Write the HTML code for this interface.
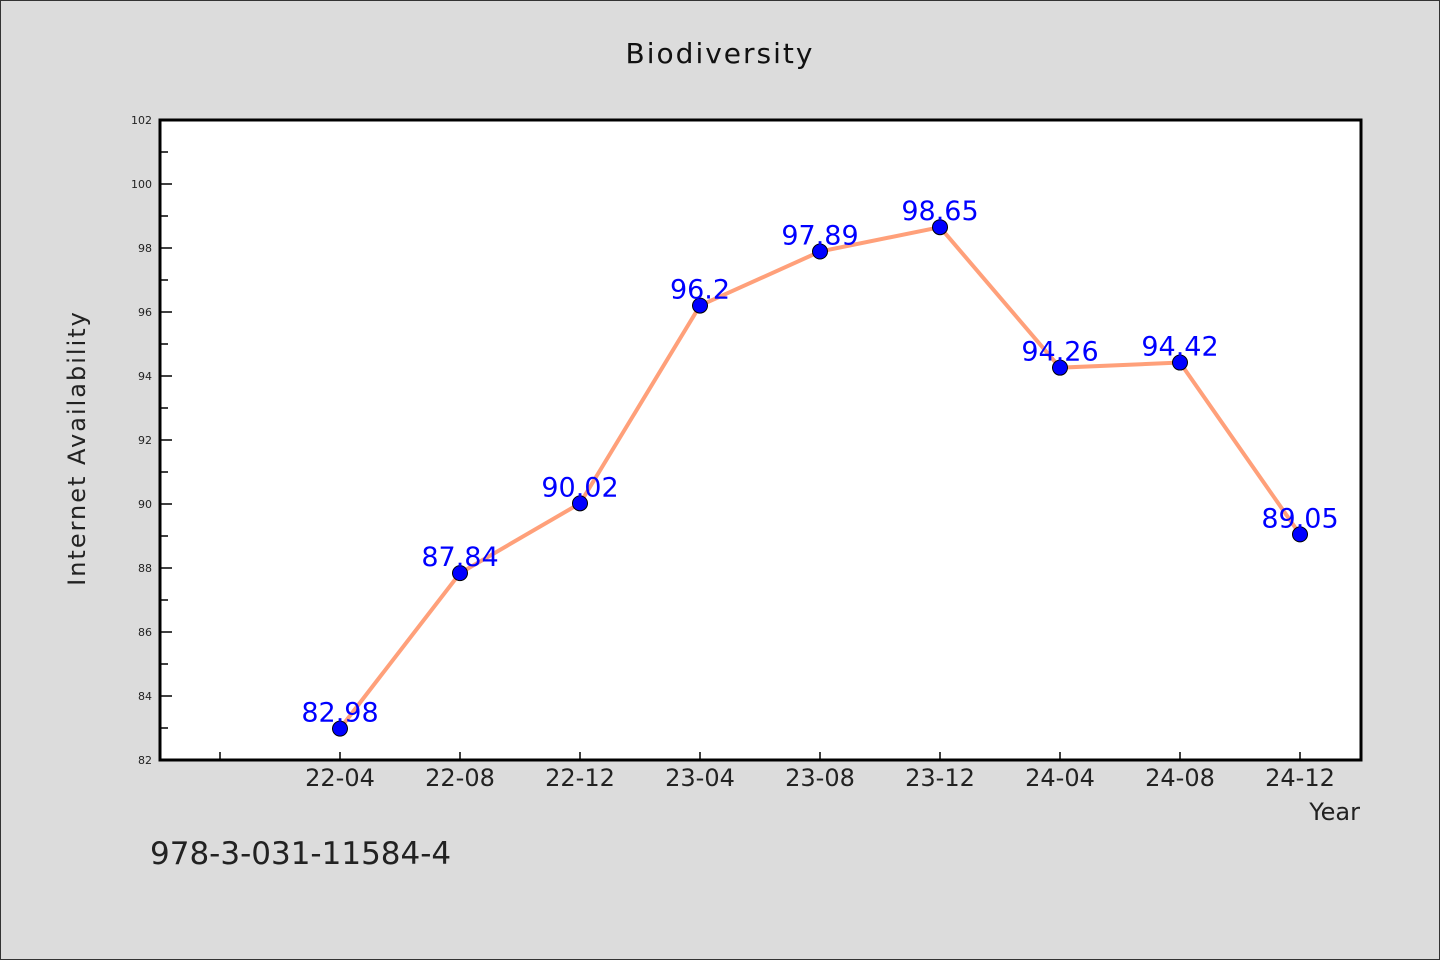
<!DOCTYPE html>
<html><head><meta charset="utf-8"><style>
body{margin:0;width:1440px;height:960px;background:#dcdcdc;overflow:hidden}
svg{display:block;font-family:"DejaVu Sans","Liberation Sans",sans-serif}
</style></head><body>
<svg id="chart" width="1440" height="960">
<rect x="0.5" y="0.5" width="1439" height="959" fill="#dcdcdc" stroke="#333"/>
<text x="720" y="63" text-anchor="middle" font-size="28" letter-spacing="2" fill="#111">Biodiversity</text>
<rect x="160" y="120" width="1201" height="640" fill="#fff"/>
<g id="axes"></g>
<g id="marks"></g>
<rect x="160" y="120" width="1201" height="640" fill="none" stroke="#000" stroke-width="3"/>
<text transform="translate(85,448) rotate(-90)" text-anchor="middle" font-size="24" letter-spacing="2" fill="#222">Internet Availability</text>
<text x="1360" y="820" text-anchor="end" font-size="24" fill="#222">Year</text>
<text x="150" y="864" font-size="31" fill="#222">978-3-031-11584-4</text>
</svg>
<script>
const categories=["22-04","22-08","22-12","23-04","23-08","23-12","24-04","24-08","24-12"];
const values=[82.98,87.84,90.02,96.2,97.89,98.65,94.26,94.42,89.05];
const labels=["82.98","87.84","90.02","96.2","97.89","98.65","94.26","94.42","89.05"];
const yTicks=[82,84,86,88,90,92,94,96,98,100,102];
const NS="http://www.w3.org/2000/svg";
const x=i=>340+i*120;
const y=v=>760-(v-82)*32;
function mk(t,a,p){const e=document.createElementNS(NS,t);for(const k in a)e.setAttribute(k,a[k]);p.appendChild(e);return e;}
const ax=document.getElementById('axes'),mg=document.getElementById('marks');
yTicks.forEach(v=>{
 const l=mk('line',{x1:160,x2:172,y1:y(v),y2:y(v),stroke:'#000','stroke-width':1.5},ax);
 
 
 const t=mk('text',{x:152,y:y(v)+4,'text-anchor':'end','font-size':11,fill:'#222'},ax);
 t.textContent=v;
 
 
 if(v<102){const m=mk('line',{x1:160,x2:168,y1:y(v+1),y2:y(v+1),stroke:'#000','stroke-width':1.5},ax);
 
 }
});
for(let i=-1;i<categories.length;i++){
 const l=mk('line',{x1:x(i),x2:x(i),y1:760,y2:752,stroke:'#000','stroke-width':1.5},ax);
 
 
 if(i>=0){const t=mk('text',{x:x(i),y:786,'text-anchor':'middle','font-size':24,fill:'#222'},ax);
 t.textContent=categories[i];
 
 }
}
const pl=mk('polyline',{points:values.map((v,i)=>x(i)+','+y(v)).join(' '),fill:'none',stroke:'#ffa07a','stroke-width':4},mg);


values.forEach((v,i)=>{
 const c=mk('circle',{cx:x(i),cy:y(v),r:7.5,fill:'#0000ff',stroke:'#000','stroke-width':1},mg);
 
 
 const t=mk('text',{x:x(i),y:y(v)-7,'text-anchor':'middle','font-size':27,fill:'#0000ff'},mg);
 t.textContent=labels[i];
 
 
});
</script>
</body></html>
